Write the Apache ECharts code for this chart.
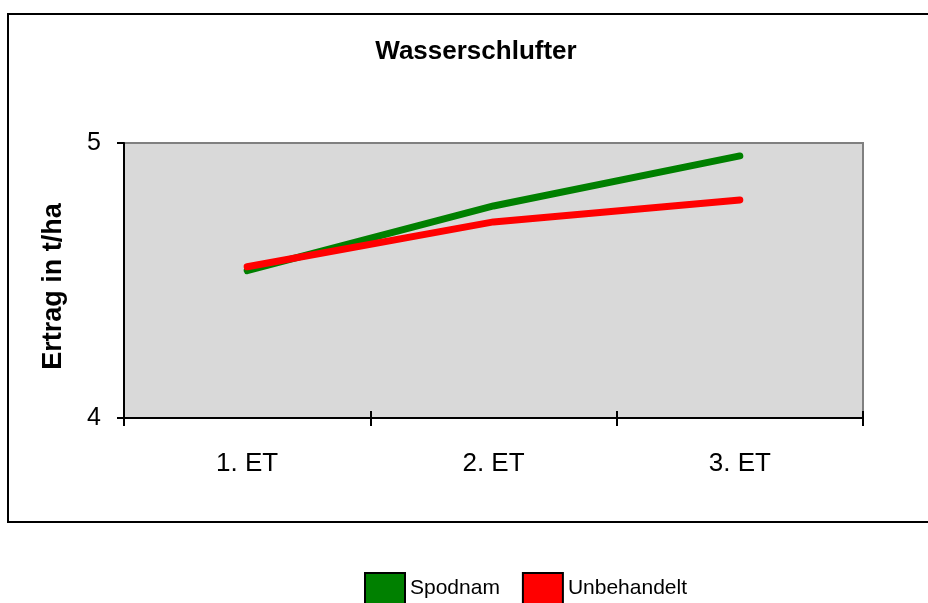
<!DOCTYPE html>
<html>
<head>
<meta charset="utf-8">
<script src="https://cdn.jsdelivr.net/npm/echarts@6/dist/echarts.min.js"></script>
<style>
  html, body { margin: 0; padding: 0; background: #fff; }
  #main { width: 928px; height: 603px; }
</style>
</head>
<body>
<div id="main"></div>
<script>
// data
var categories = ['1. ET', '2. ET', '3. ET'];
var spodnam = [4.536, 4.771, 4.953];
var unbehandelt = [4.55, 4.713, 4.793];
var yTicks = [4, 5];

var myChart = echarts.init(document.getElementById('main'));

var font = '"Liberation Sans", Arial, sans-serif';

var option = {
    backgroundColor: '#fff',
    animation: false,
    textStyle: { fontFamily: font },
    title: {
        text: 'Wasserschlufter',
        left: 471,
        textAlign: 'center',
        top: 34,
        textStyle: { fontFamily: font, fontSize: 26, fontWeight: 'bold', color: '#000' }
    },
    graphic: [{
        type: 'rect',
        shape: { x: 8, y: 14, width: 940, height: 508 },
        style: { fill: null, stroke: '#000', lineWidth: 2 },
        silent: true
    }],
    legend: {
        left: 359,
        top: 567,
        itemWidth: 40,
        itemHeight: 31,
        itemGap: 22,
        icon: 'rect',
        data: [
            { name: 'Spodnam', itemStyle: { color: '#008000', borderColor: '#000', borderWidth: 2 } },
            { name: 'Unbehandelt', itemStyle: { color: '#ff0000', borderColor: '#000', borderWidth: 2 } }
        ],
        textStyle: { fontFamily: font, fontSize: 21, color: '#000' }
    },
    grid: {
        left: 124,
        top: 143,
        right: 65,
        bottom: 185,
        show: true,
        backgroundColor: '#d9d9d9',
        borderColor: '#808080',
        borderWidth: 2
    },
    xAxis: [{
        type: 'category',
        data: categories,
        boundaryGap: true,
        axisLine: { lineStyle: { color: '#000', width: 2 } },
        axisTick: { show: true, length: 8, lineStyle: { color: '#000', width: 2 } },
        axisLabel: { fontFamily: font, fontSize: 26, color: '#000', margin: 33 },
        splitLine: { show: false }
    }, {
        type: 'category',
        data: categories,
        position: 'bottom',
        boundaryGap: true,
        axisLine: { show: false },
        axisTick: { show: true, inside: true, length: 7, lineStyle: { color: '#000', width: 2 } },
        axisLabel: { show: false },
        splitLine: { show: false }
    }],
    yAxis: {
        type: 'value',
        min: yTicks[0],
        max: yTicks[yTicks.length - 1],
        interval: 1,
        name: 'Ertrag in t/ha',
        nameLocation: 'middle',
        nameGap: 57,
        nameTextStyle: { fontFamily: font, fontSize: 27, fontWeight: 'bold', color: '#000', padding: [0, 12, 0, 0] },
        axisLine: { show: true, lineStyle: { color: '#000', width: 2 } },
        axisTick: { show: true, length: 7, lineStyle: { color: '#000', width: 2 } },
        axisLabel: { fontFamily: font, fontSize: 25, color: '#000', margin: 23 },
        splitLine: { show: false }
    },
    series: [{
        name: 'Spodnam',
        type: 'line',
        data: spodnam,
        symbol: 'none',
        color: '#008000',
        lineStyle: { color: '#008000', width: 7, cap: 'round', join: 'round' }
    }, {
        name: 'Unbehandelt',
        type: 'line',
        data: unbehandelt,
        symbol: 'none',
        color: '#ff0000',
        lineStyle: { color: '#ff0000', width: 7, cap: 'round', join: 'round' }
    }]
};

myChart.setOption(option);
</script>
</body>
</html>
